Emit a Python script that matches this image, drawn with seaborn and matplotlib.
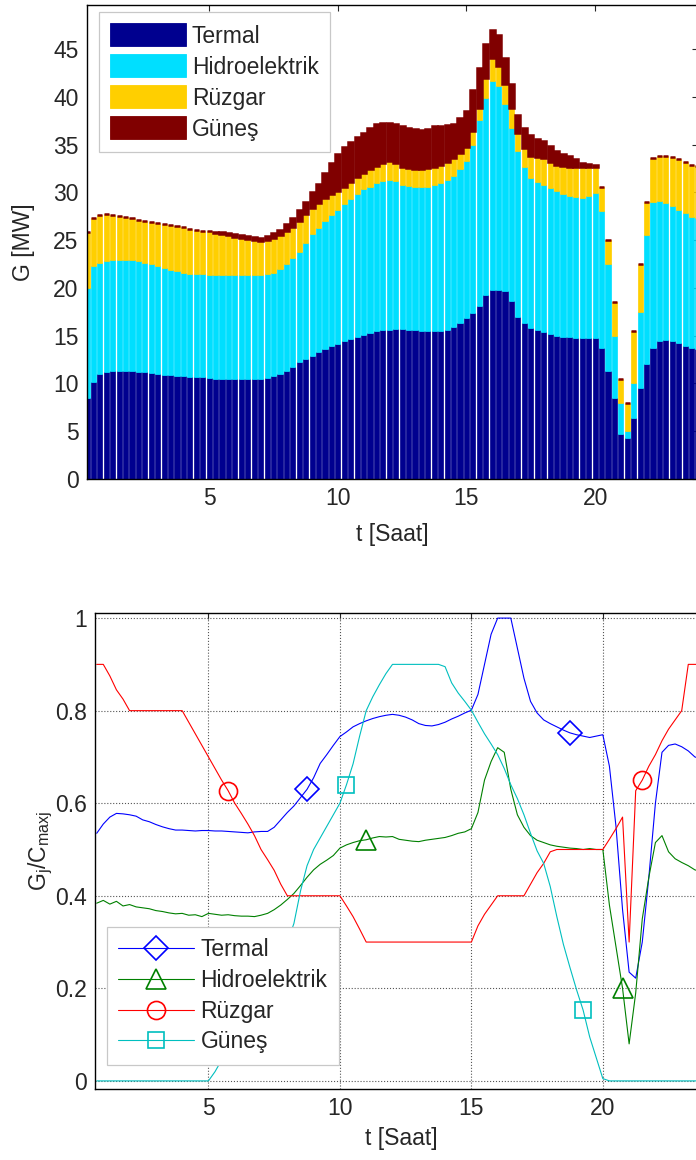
import numpy as np
import seaborn as sns
import matplotlib.pyplot as plt
from matplotlib.patches import Patch
from matplotlib.lines import Line2D

sns.set_style("white")
plt.rcParams["font.family"] = ["Liberation Sans", "DejaVu Sans"]
plt.rcParams["mathtext.fontset"] = "custom"
plt.rcParams["mathtext.rm"] = "Liberation Sans"
plt.rcParams["mathtext.it"] = "Liberation Sans"

FS = 16.5

# ---- top chart: generation per source [MW], 15 min steps (0.25 ... 24 h)
termal_mw = [
    8.5, 10.2, 11.0, 11.2, 11.3, 11.3, 11.3, 11.3, 11.2, 11.2, 11.1, 11.0,
    10.9, 10.9, 10.8, 10.8, 10.7, 10.7, 10.7, 10.6, 10.5, 10.5, 10.5, 10.5,
    10.5, 10.5, 10.5, 10.5, 10.6, 10.8, 11.0, 11.3, 11.7, 12.2, 12.6, 12.9,
    13.3, 13.6, 13.9, 14.1, 14.4, 14.7, 14.9, 15.1, 15.3, 15.5, 15.6, 15.6,
    15.7, 15.7, 15.6, 15.6, 15.5, 15.5, 15.5, 15.5, 15.6, 15.9, 16.3, 16.8,
    17.4, 18.1, 19.3, 19.8, 19.8, 19.7, 18.6, 17.0, 16.3, 15.8, 15.6, 15.4,
    15.2, 15.0, 14.9, 14.9, 14.8, 14.8, 14.8, 14.8, 13.7, 11.3, 8.5, 4.7,
    4.3, 6.4, 9.5, 12.0, 13.7, 14.4, 14.5, 14.4, 14.2, 13.9, 13.7, 13.6,
]
hidro_mw = [
    11.5, 12.1, 11.6, 11.6, 11.6, 11.6, 11.6, 11.6, 11.6, 11.4, 11.4, 11.3,
    11.2, 11.0, 11.0, 10.8, 10.8, 10.8, 10.7, 10.7, 10.8, 10.8, 10.8, 10.8,
    10.8, 10.8, 10.8, 10.8, 10.8, 10.8, 11.0, 11.2, 11.4, 11.6, 12.1, 12.7,
    13.0, 13.4, 13.7, 14.1, 14.4, 14.6, 14.9, 15.2, 15.3, 15.5, 15.6, 15.7,
    15.5, 15.1, 15.1, 15.0, 15.1, 15.1, 15.3, 15.5, 15.7, 15.8, 16.1, 16.5,
    17.6, 19.5, 20.6, 21.8, 21.3, 19.5, 18.1, 17.3, 16.3, 15.7, 15.5, 15.4,
    15.2, 15.1, 14.9, 14.7, 14.7, 14.6, 14.8, 15.1, 14.3, 11.2, 6.5, 3.3,
    0.7, 3.6, 8.0, 13.5, 15.3, 14.7, 14.4, 14.2, 13.9, 13.9, 13.7, 13.7,
]
ruzgar_mw = [
    5.8, 5.0, 5.0, 4.9, 4.7, 4.6, 4.5, 4.4, 4.3, 4.4, 4.4, 4.5,
    4.6, 4.7, 4.7, 4.8, 4.7, 4.6, 4.6, 4.6, 4.4, 4.3, 4.2, 4.0,
    3.9, 3.8, 3.7, 3.6, 3.6, 3.6, 3.5, 3.4, 3.3, 3.2, 3.0, 2.8,
    2.6, 2.4, 2.2, 1.9, 1.8, 1.8, 1.8, 1.7, 1.8, 1.8, 1.9, 2.0,
    1.9, 1.9, 1.8, 1.8, 1.8, 1.9, 1.9, 1.9, 1.9, 1.9, 1.7, 1.4,
    1.4, 1.2, 2.1, 2.5, 2.1, 2.1, 2.1, 1.9, 2.0, 2.3, 2.6, 2.8,
    2.8, 2.8, 3.0, 3.1, 3.2, 3.3, 3.0, 2.7, 2.6, 2.5, 3.5, 2.5,
    3.0, 5.5, 5.0, 3.5, 4.6, 4.7, 4.9, 5.1, 5.4, 5.4, 5.5, 5.5,
]
gunes_mw = [
    0, 0, 0, 0, 0, 0, 0, 0, 0, 0, 0, 0,
    0, 0, 0, 0, 0, 0, 0, 0, 0.1, 0.2, 0.25, 0.3,
    0.3, 0.3, 0.3, 0.3, 0.4, 0.5, 0.6, 0.8, 0.9, 1.1, 1.3, 1.6,
    2.0, 2.6, 3.3, 3.9, 4.1, 4.2, 4.2, 4.2, 4.3, 4.3, 4.1, 4.0,
    4.0, 4.2, 4.2, 4.2, 4.1, 4.1, 4.2, 4.0, 3.8, 3.5, 3.7, 3.8,
    4.3, 4.2, 3.5, 2.9, 3.3, 2.8, 2.5, 1.9, 2.1, 2.2, 1.9, 1.8,
    1.6, 1.4, 1.2, 1.1, 0.8, 0.4, 0.4, 0.3, 0, 0, 0, 0,
    0, 0, 0, 0, 0, 0, 0, 0, 0, 0, 0, 0,
]

# ---- bottom chart: G_j / C_max,j, 15 min steps (0.75 ... 24 h)
termal_pu = [
    0.535, 0.555, 0.570, 0.578, 0.577, 0.575, 0.572, 0.564, 0.560, 0.554,
    0.549, 0.545, 0.542, 0.542, 0.541, 0.540, 0.541, 0.541, 0.540, 0.540,
    0.539, 0.538, 0.537, 0.536, 0.538, 0.539, 0.539, 0.548, 0.564, 0.580,
    0.594, 0.612, 0.630, 0.655, 0.686, 0.705, 0.725, 0.744, 0.754, 0.765,
    0.772, 0.778, 0.783, 0.787, 0.790, 0.792, 0.790, 0.786, 0.780, 0.772,
    0.768, 0.767, 0.770, 0.775, 0.782, 0.788, 0.795, 0.801, 0.835, 0.900,
    0.965, 1.0, 1.0, 1.0, 0.935, 0.870, 0.820, 0.795, 0.780, 0.772,
    0.765, 0.758, 0.752, 0.748, 0.745, 0.742, 0.745, 0.748, 0.680, 0.550,
    0.370, 0.235, 0.222, 0.300, 0.440, 0.600, 0.710, 0.725, 0.728, 0.722,
    0.713, 0.700, 0.695, 0.690,
]
hidro_pu = [
    0.384, 0.390, 0.382, 0.388, 0.378, 0.381, 0.376, 0.374, 0.372, 0.368,
    0.366, 0.363, 0.361, 0.362, 0.358, 0.359, 0.355, 0.362, 0.360, 0.358,
    0.359, 0.357, 0.356, 0.356, 0.355, 0.358, 0.362, 0.370, 0.380, 0.392,
    0.405, 0.422, 0.440, 0.456, 0.468, 0.477, 0.487, 0.503, 0.510, 0.515,
    0.519, 0.521, 0.525, 0.528, 0.527, 0.528, 0.522, 0.520, 0.518, 0.517,
    0.520, 0.522, 0.524, 0.526, 0.530, 0.535, 0.538, 0.545, 0.580, 0.650,
    0.690, 0.720, 0.710, 0.630, 0.575, 0.548, 0.530, 0.520, 0.515, 0.510,
    0.507, 0.505, 0.503, 0.502, 0.500, 0.502, 0.500, 0.500, 0.380, 0.290,
    0.200, 0.080, 0.190, 0.350, 0.440, 0.515, 0.530, 0.495, 0.480, 0.472,
    0.465, 0.456, 0.452, 0.448,
]
ruzgar_pu = [
    0.900, 0.900, 0.875, 0.845, 0.825, 0.800, 0.800, 0.800, 0.800, 0.800,
    0.800, 0.800, 0.800, 0.800, 0.775, 0.750, 0.725, 0.700, 0.675, 0.650,
    0.627, 0.600, 0.578, 0.555, 0.530, 0.500, 0.478, 0.455, 0.425, 0.400,
    0.400, 0.400, 0.400, 0.400, 0.400, 0.400, 0.400, 0.400, 0.378, 0.355,
    0.328, 0.300, 0.300, 0.300, 0.300, 0.300, 0.300, 0.300, 0.300, 0.300,
    0.300, 0.300, 0.300, 0.300, 0.300, 0.300, 0.300, 0.300, 0.335, 0.360,
    0.380, 0.400, 0.400, 0.400, 0.400, 0.400, 0.425, 0.450, 0.470, 0.495,
    0.500, 0.500, 0.500, 0.500, 0.500, 0.500, 0.500, 0.500, 0.522, 0.545,
    0.570, 0.300, 0.627, 0.650, 0.680, 0.705, 0.735, 0.760, 0.780, 0.800,
    0.900, 0.900, 0.900, 0.900,
]
gunes_pu = [
    0, 0, 0, 0, 0, 0, 0, 0, 0, 0,
    0, 0, 0, 0, 0, 0, 0, 0, 0.020, 0.045,
    0.070, 0.090, 0.115, 0.135, 0.155, 0.175, 0.205, 0.240, 0.275, 0.300,
    0.340, 0.410, 0.465, 0.500, 0.525, 0.550, 0.575, 0.600, 0.640, 0.685,
    0.745, 0.800, 0.830, 0.856, 0.880, 0.900, 0.900, 0.900, 0.900, 0.900,
    0.900, 0.900, 0.900, 0.895, 0.860, 0.838, 0.820, 0.801, 0.775, 0.750,
    0.728, 0.705, 0.675, 0.640, 0.610, 0.575, 0.535, 0.497, 0.470, 0.420,
    0.355, 0.295, 0.245, 0.197, 0.153, 0.095, 0.050, 0.005, 0, 0,
    0, 0, 0, 0, 0, 0, 0, 0, 0, 0,
    0, 0, 0, 0,
]

# hours where the single markers sit on each curve
termal_marks = [8.75, 18.75]
hidro_marks = [11.0, 20.75]
ruzgar_marks = [5.75, 21.5]
gunes_marks = [10.25, 19.25]

labels = ["Termal", "Hidroelektrik", "Rüzgar", "Güneş"]
bar_colors = ["#00008F", "#00DFFF", "#FFCF00", "#800000"]
line_colors = ["#0000FF", "#008000", "#FF0000", "#00BFBF"]
markers = ["D", "^", "o", "s"]
msizes = [12, 15, 13, 12]

t_bar = np.arange(1, len(termal_mw) + 1) * 0.25
t_line = np.arange(3, len(termal_pu) + 3) * 0.25

fig = plt.figure(figsize=(6.96, 11.6), dpi=100)

# ---------------- top: stacked bars
ax1 = fig.add_axes([87 / 696, 1 - 479 / 1160, 611 / 696, 474 / 1160])
base = np.zeros(len(t_bar))
for vals, col in zip([termal_mw, hidro_mw, ruzgar_mw, gunes_mw], bar_colors):
    vals = np.asarray(vals, dtype=float)
    lw = 1.8 if col == "#800000" else 0.5
    ax1.bar(t_bar, vals, width=0.2, bottom=base, color=col,
            edgecolor=col, linewidth=lw)
    base = base + vals

ax1.set_xlim(0.25, 24)
ax1.set_ylim(0, 49.6)
ax1.set_xticks([5, 10, 15, 20])
ax1.set_yticks(np.arange(0, 50, 5))
ax1.tick_params(direction="in", top=True, right=True, length=4,
                labelsize=FS, width=0.8, pad=6)
for sp in ax1.spines.values():
    sp.set_color("black")
    sp.set_linewidth(1.0)
ax1.set_xlabel("t [Saat]", fontsize=FS)
ax1.set_ylabel("G [MW]", fontsize=FS)
ax1.xaxis.set_label_coords(0.5, -0.092)
ax1.yaxis.set_label_coords(-0.085, 0.5)

bar_handles = [Patch(facecolor=c, edgecolor=c, linewidth=0.6) for c in bar_colors]
leg1 = ax1.legend(bar_handles, labels, loc="upper left",
                  bbox_to_anchor=(99 / 696, 1 - 12 / 1160),
                  bbox_transform=fig.transFigure, borderaxespad=0,
                  fontsize=FS, handlelength=3.3, handleheight=1.15,
                  labelspacing=0.3, handletextpad=0.25, borderpad=0.5,
                  fancybox=False, framealpha=1, edgecolor="#c8c8c8")
leg1.get_frame().set_linewidth(0.9)

# ---------------- bottom: normalised lines
ax2 = fig.add_axes([95 / 696, 1 - 1089 / 1160, 613 / 696, 476 / 1160])
series = [termal_pu, hidro_pu, ruzgar_pu, gunes_pu]
marks = [termal_marks, hidro_marks, ruzgar_marks, gunes_marks]
for vals, col, mk, ms, mt in zip(series, line_colors, markers, msizes, marks):
    idx = [int(np.argmin(np.abs(t_line - m))) for m in mt]
    sns.lineplot(x=t_line, y=vals, ax=ax2, color=col, linewidth=0.8,
                 errorbar=None, marker=mk, markersize=ms, markevery=idx,
                 markerfacecolor="none", markeredgecolor=col,
                 markeredgewidth=1.2)

ax2.set_xlim(0.685, 24)
ax2.set_ylim(-0.0175, 1.011)
ax2.set_xticks([5, 10, 15, 20])
ax2.set_yticks([0, 0.2, 0.4, 0.6, 0.8, 1])
ax2.set_yticklabels(["0", "0.2", "0.4", "0.6", "0.8", "1"])
ax2.grid(True, linestyle=":", color="#555555", linewidth=0.8)
ax2.tick_params(direction="in", top=True, right=True, length=4,
                labelsize=FS, width=0.8, pad=6)
for sp in ax2.spines.values():
    sp.set_color("black")
    sp.set_linewidth(1.0)
ax2.set_xlabel("t [Saat]", fontsize=FS)
ax2.set_ylabel(r"$\mathregular{G_j/C_{maxj}}$", fontsize=FS)
ax2.xaxis.set_label_coords(0.5, -0.08)
ax2.yaxis.set_label_coords(-0.065, 0.5)

line_handles = [Line2D([0], [0], color=c, lw=0.8, marker=m, markersize=s,
                       markerfacecolor="none", markeredgecolor=c,
                       markeredgewidth=1.2)
                for c, m, s in zip(line_colors, markers, msizes)]
leg2 = ax2.legend(line_handles, labels, loc="upper left",
                  bbox_to_anchor=(107 / 696, 1 - 927 / 1160),
                  bbox_transform=fig.transFigure, borderaxespad=0,
                  fontsize=FS, handlelength=3.3, labelspacing=0.33,
                  handletextpad=0.28, borderpad=0.5,
                  fancybox=False, framealpha=1, edgecolor="#c8c8c8")
leg2.get_frame().set_linewidth(0.9)

fig.savefig("out.png", dpi=100)
